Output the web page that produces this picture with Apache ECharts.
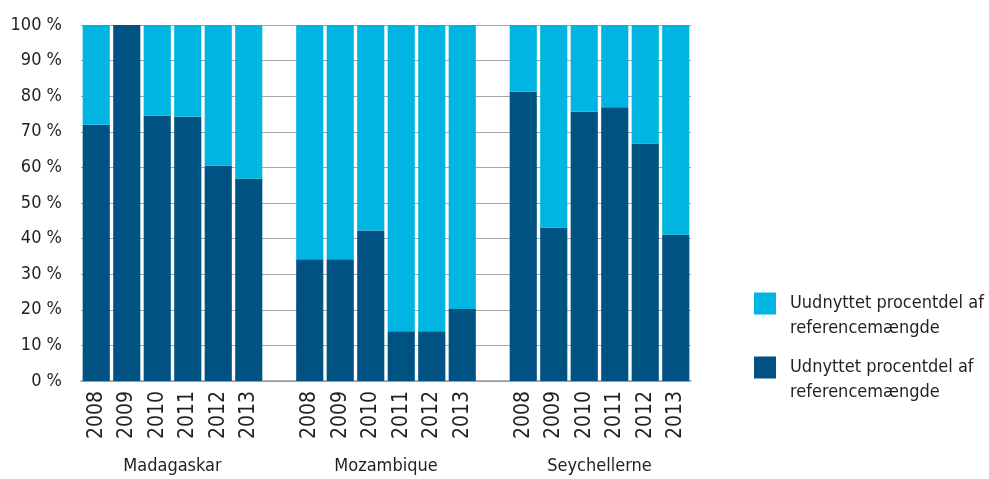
<!DOCTYPE html>
<html>
<head>
<meta charset="utf-8">
<script src="https://cdn.jsdelivr.net/npm/echarts@6/dist/echarts.min.js"></script>
<style>
html,body{margin:0;padding:0;background:#fff;}
#chart{width:989px;height:479px;}
</style>
</head>
<body>
<div id="chart"></div>
<script>
// Categories: 3 countries x 6 years, with an empty slot between groups
const categories = ['2008','2009','2010','2011','2012','2013','',
                    '2008','2009','2010','2011','2012','2013','',
                    '2008','2009','2010','2011','2012','2013'];
const groupNames = ['Madagaskar','Mozambique','Seychellerne'];
const groupCenters = [3, 10, 17];
// Udnyttet (used) share, %
const used = [72, 100, 74.5, 74.2, 60.5, 56.8, null,
              34.2, 34.2, 42.3, 14.0, 14.0, 20.2, null,
              81.3, 43.1, 75.6, 76.9, 66.7, 41.1];
// Uudnyttet (unused) share, %
const unused = [28, 0, 25.5, 25.8, 39.5, 43.2, null,
                65.8, 65.8, 57.7, 86.0, 86.0, 79.8, null,
                18.7, 56.9, 24.4, 23.1, 33.3, 58.9];
const yTicks = [0,10,20,30,40,50,60,70,80,90,100];

const nameUnused = 'Uudnyttet procentdel af\nreferencemængde';
const nameUsed = 'Udnyttet procentdel af\nreferencemængde';
const FONT = '"Liberation Sans Narrow", "DejaVu Sans Condensed", sans-serif';
const TXT = '#231f20';

const chart = echarts.init(document.getElementById('chart'));
const legendCommon = {
  orient: 'vertical', left: 754, padding: 0,
  icon: 'rect', itemWidth: 22, itemHeight: 22, itemGap: 0,
  selectedMode: false,
  formatter: function (name) { return '\n' + name; },
  textStyle: { fontFamily: FONT, fontSize: 18, color: TXT, lineHeight: 25, padding: [0, 0, 0, 9] }
};
chart.setOption({
  animation: false,
  color: ['#005282', '#00b5e2'],
  grid: { left: 81, right: 298, top: 25, bottom: 98 },
  legend: [
    Object.assign({}, legendCommon, { top: 266, data: [nameUnused] }),
    Object.assign({}, legendCommon, { top: 330, data: [nameUsed] })
  ],
  xAxis: [{
    type: 'category',
    data: categories,
    axisLine: { lineStyle: { color: '#9a9a9a', width: 1.5 } },
    axisTick: { show: false },
    axisLabel: { rotate: 90, interval: 0, margin: 10, fontFamily: FONT, fontSize: 21, color: TXT }
  }, {
    type: 'value', position: 'bottom', min: 0, max: 20, interval: 1,
    axisLine: { show: false }, axisTick: { show: false }, splitLine: { show: false },
    axisLabel: {
      margin: 76, fontFamily: FONT, fontSize: 18, color: TXT,
      formatter: function (v) { const i = groupCenters.indexOf(Math.round(v)); return i >= 0 ? groupNames[i] : ''; }
    }
  }],
  yAxis: {
    type: 'value', min: 0, max: 100, interval: 10,
    axisLine: { show: false }, axisTick: { show: false },
    splitLine: { lineStyle: { color: '#a6a6a6', width: 1 } },
    axisLabel: {
      margin: 19, fontFamily: FONT, fontSize: 18, color: TXT,
      formatter: function (v) { return yTicks.indexOf(v) >= 0 ? v + ' %' : ''; }
    }
  },
  series: [{
    name: nameUsed, type: 'bar', stack: 's', data: used,
    barCategoryGap: '11%', itemStyle: { color: '#005282' }
  }, {
    name: nameUnused, type: 'bar', stack: 's', data: unused,
    barCategoryGap: '11%', itemStyle: { color: '#00b5e2' }
  }]
});
</script>
</body>
</html>
